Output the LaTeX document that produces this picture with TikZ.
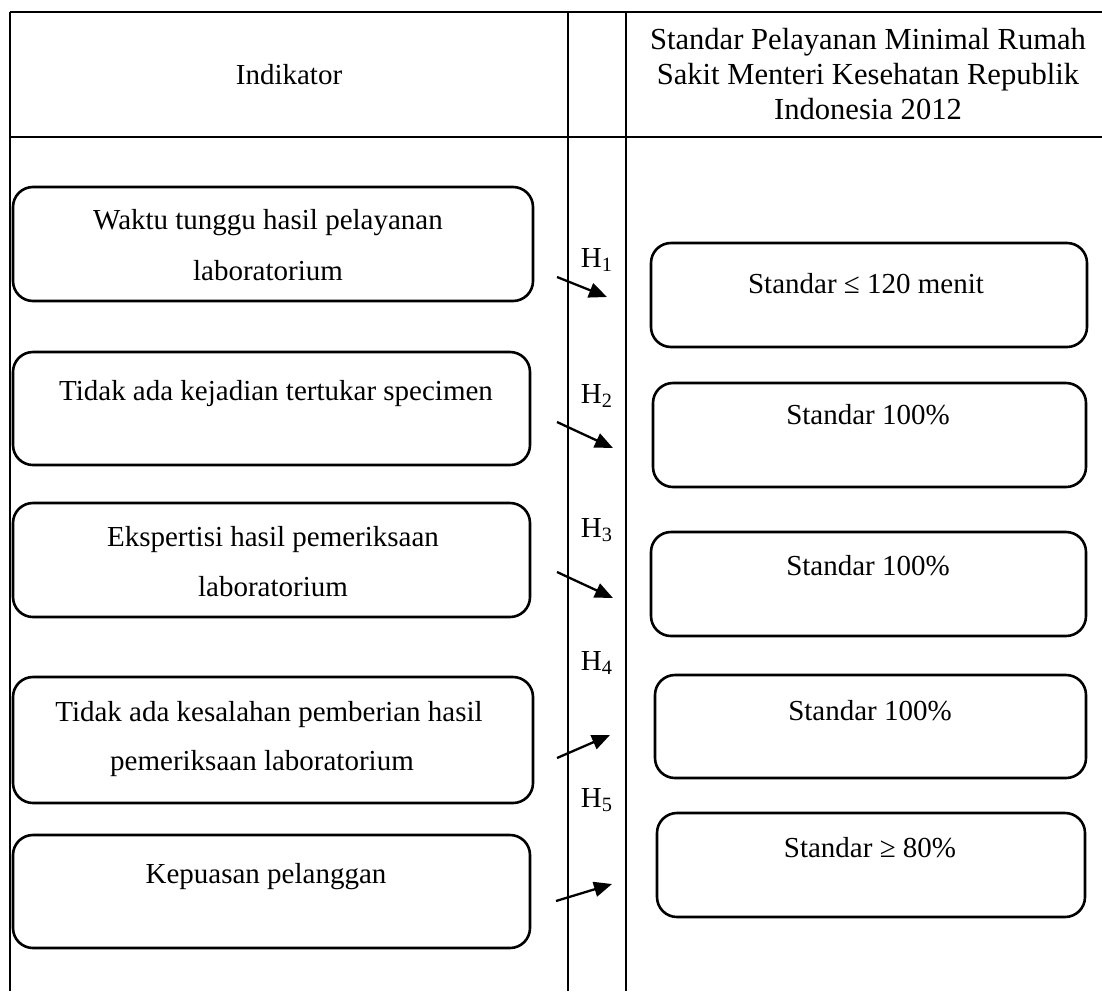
\documentclass[tikz,border=0pt]{standalone}
\usepackage{fontspec}
\setmainfont{Liberation Serif}
\usetikzlibrary{fit,arrows.meta}
\begin{document}
\begin{tikzpicture}[x=0.5pt,y=-0.5pt,
  every node/.style={font=\fontsize{14.5}{17.5}\selectfont},
  tline/.style={line width=1.3pt},
  vline/.style={line width=1pt},
  rbox/.style={draw, line width=1.3pt, rounded corners=10pt, inner sep=0pt},
  txt/.style={anchor=base, inner sep=0pt},
  hlab/.style={anchor=base, inner sep=0pt},
  arr/.style={line width=1.15pt, -{Triangle[length=9pt,width=7.5pt]}}
]
\useasboundingbox (0,0) rectangle (1102,991);
% table
\coordinate (tl) at (10,12);
\coordinate (tr) at (1102,12);
\coordinate (hl) at (10,137);
\coordinate (hr) at (1102,137);
\coordinate (bl) at (10,991);
\coordinate (c1t) at (568,12);
\coordinate (c1b) at (568,991);
\coordinate (c2t) at (626,12);
\coordinate (c2b) at (626,991);
\draw[tline] (tl) -- (tr);
\draw[tline] (hl) -- (hr);
\draw[vline] (tl) -- (bl);
\draw[vline] (c1t) -- (c1b);
\draw[vline] (c2t) -- (c2b);
% header
\node (hind) at (289,74.5) {Indikator};
\node[align=center, font=\fontsize{15.3}{17.5}\selectfont] (hstd) at (868,74.5) {Standar Pelayanan Minimal Rumah\\Sakit Menteri Kesehatan Republik\\Indonesia 2012};
% left boxes
\node[rbox, fit={(13,187) (533,301)}] (L1) {};
\node[rbox, fit={(13,352) (530,465)}] (L2) {};
\node[rbox, fit={(13,503) (530,617)}] (L3) {};
\node[rbox, fit={(13,677) (533,803)}] (L4) {};
\node[rbox, fit={(13,835) (530,948)}] (L5) {};
\node[txt] (L1a) at (268,229) {Waktu tunggu hasil pelayanan};
\node[txt] (L1b) at (268,280) {laboratorium};
\node[txt] (L2a) at (276,400) {Tidak ada kejadian tertukar specimen};
\node[txt] (L3a) at (273,546) {Ekspertisi hasil pemeriksaan};
\node[txt] (L3b) at (273,596) {laboratorium};
\node[txt] (L4a) at (269,721) {Tidak ada kesalahan pemberian hasil};
\node[txt] (L4b) at (262,770) {pemeriksaan laboratorium};
\node[txt] (L5a) at (266,883) {Kepuasan pelanggan};
% right boxes
\node[rbox, fit={(651,243) (1087,347)}] (R1) {};
\node[rbox, fit={(653,383) (1086,487)}] (R2) {};
\node[rbox, fit={(651,532) (1086,636)}] (R3) {};
\node[rbox, fit={(655,675) (1086,778)}] (R4) {};
\node[rbox, fit={(657,813) (1085,917)}] (R5) {};
\node[txt] (R1a) at (866,293) {Standar ≤ 120 menit};
\node[txt] (R2a) at (868,424) {Standar 100\%};
\node[txt] (R3a) at (868,575) {Standar 100\%};
\node[txt] (R4a) at (870,720) {Standar 100\%};
\node[txt] (R5a) at (870,857) {Standar ≥ 80\%};
% H labels
\node[hlab] (H1) at (597,267) {H\textsubscript{1}};
\node[hlab] (H2) at (597,403) {H\textsubscript{2}};
\node[hlab] (H3) at (597,537) {H\textsubscript{3}};
\node[hlab] (H4) at (597,670) {H\textsubscript{4}};
\node[hlab] (H5) at (597,807) {H\textsubscript{5}};
% arrows
\coordinate (a1s) at (557,277); \coordinate (a1e) at (607,297);
\coordinate (a2s) at (557,422); \coordinate (a2e) at (613,448);
\coordinate (a3s) at (557,572); \coordinate (a3e) at (613,598);
\coordinate (a4s) at (557,758); \coordinate (a4e) at (610,735);
\coordinate (a5s) at (556,901); \coordinate (a5e) at (612,884);
\draw[arr] (a1s) -- (a1e);
\draw[arr] (a2s) -- (a2e);
\draw[arr] (a3s) -- (a3e);
\draw[arr] (a4s) -- (a4e);
\draw[arr] (a5s) -- (a5e);
\end{tikzpicture}
\end{document}
